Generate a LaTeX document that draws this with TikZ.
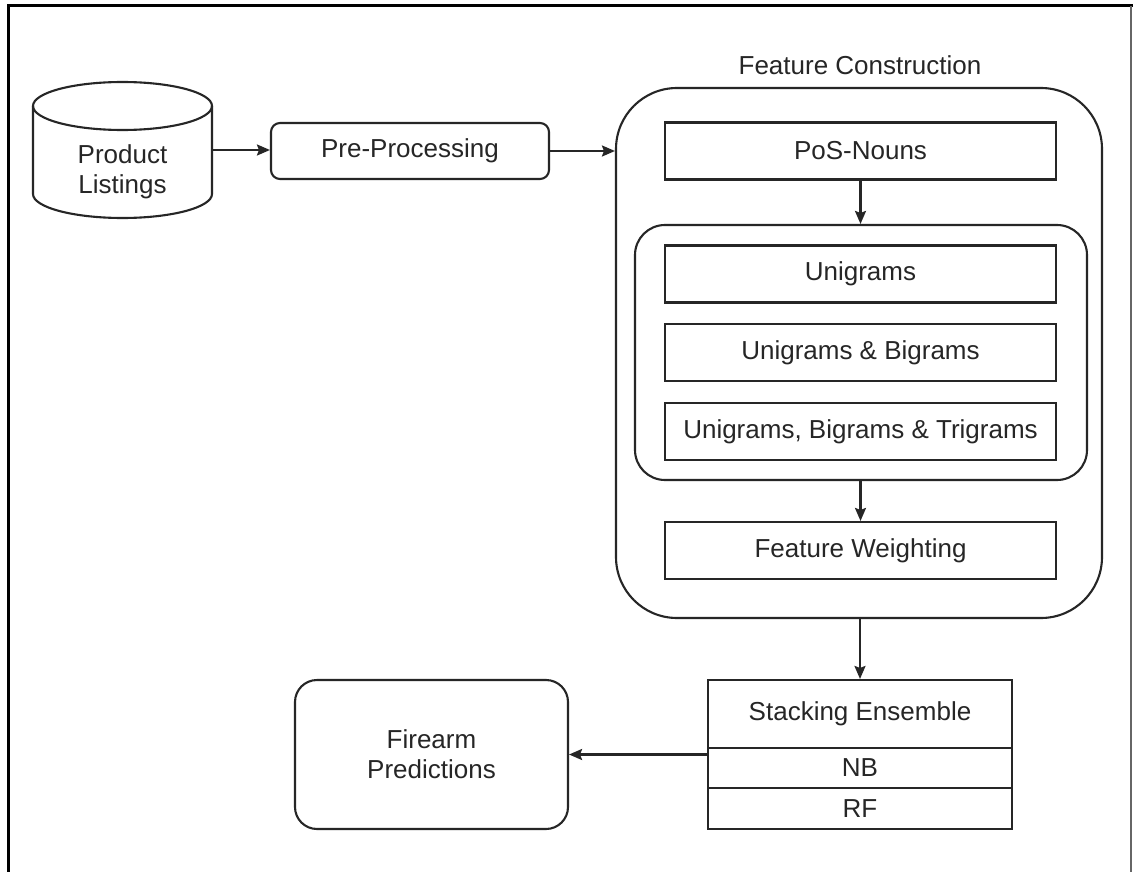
\documentclass[tikz,border=0pt]{standalone}
\usepackage{fontspec}
\setmainfont{Liberation Sans}
\usetikzlibrary{arrows.meta}
\begin{document}
\begin{tikzpicture}[x=1pt,y=-1pt,
  every node/.style={font=\fontsize{26pt}{30pt}\selectfont, text=black!85},
  ln/.style={draw=black!85, line width=2.1pt},
  arr/.style={ln, -{Stealth[length=13pt,width=11pt,inset=2pt]}},
  box/.style={ln, rectangle, inner sep=0pt, minimum width=391pt, minimum height=57pt},
  rbox/.style={ln, rectangle, inner sep=0pt, rounded corners=#1},
  stk/.style={ln, rectangle, inner sep=0pt, minimum width=304pt}
]
\useasboundingbox (0,0) rectangle (1133,872);
\fill[white] (0,0) rectangle (1133,872);
% outer frame
\draw[line width=3pt, black] (8,872) -- (8,6) -- (1133,6);
\draw[line width=1.2pt, black!60] (1131,6) -- (1131,872);

% cylinder
\node (pl) [minimum width=179pt, minimum height=136pt, inner sep=0pt, align=center] at (122.5,150) {};
\draw[ln, fill=white] (33,106) -- (33,194) arc[start angle=180, end angle=360, x radius=89.5pt, y radius=24pt] -- (212,106);
\draw[ln] (122.5,106) ellipse [x radius=89.5pt, y radius=24pt];
\node[align=center] at (122.5,172) {Product\\Listings};

% pre-processing
\node (pp) [rbox=9pt, minimum width=278pt, minimum height=56pt] at (410,151) {Pre-Processing};

% feature construction
\node (fc) [rbox=61pt, minimum width=486pt, minimum height=530pt] at (859,353) {};
\node (fcl) at (860,65) {Feature Construction};
\node (pos) [box] at (860.5,151) {PoS-Nouns};
\node (inner) [rbox=30pt, minimum width=452pt, minimum height=255pt] at (861,352.5) {};
\node (uni) [box] at (860.5,274) {Unigrams};
\node (ub) [box] at (860.5,352.5) {Unigrams \& Bigrams};
\node (ubt) [box] at (860.5,431.5) {Unigrams, Bigrams \& Trigrams};
\node (fw) [box] at (860.5,550.5) {Feature Weighting};

% stacking
\node (se) [stk, minimum height=68pt] at (860,714) {Stacking Ensemble};
\node (nb) [stk, minimum height=40pt] at (860,768) {NB};
\node (rf) [stk, minimum height=41pt] at (860,808.5) {RF};

% firearm predictions
\node (fp) [rbox=22pt, minimum width=273pt, minimum height=149pt, align=center] at (431.5,754.5) {Firearm\\Predictions};

% connectors
\draw[arr] (pl.east) -- (pp.west |- pl.east);
\draw[arr] (pp.east) -- (fc.west |- pp.east);
\draw[arr] (pos.south) -- (pos.south |- inner.north);
\draw[arr] (inner.south -| fw.north) -- (fw.north);
\draw[arr] (fc.south -| se.north) -- (se.north);
\draw[arr] (fp.east -| nb.west) -- (fp.east);
\end{tikzpicture}
\end{document}
